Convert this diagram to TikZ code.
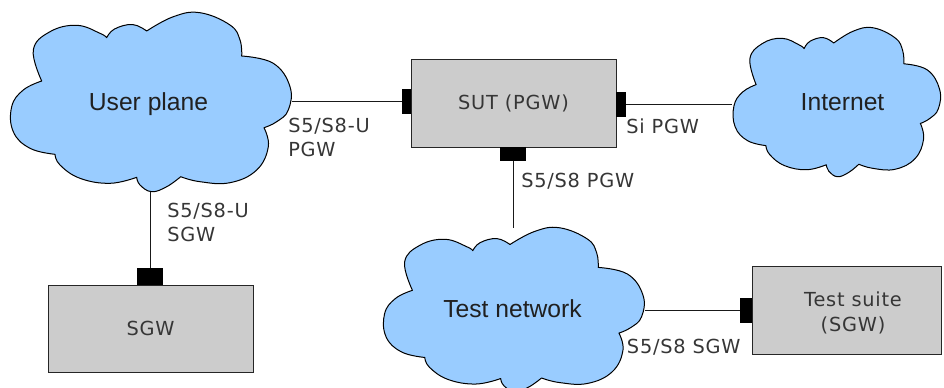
\documentclass[tikz,border=0pt]{standalone}
\usepackage{fontspec}
\newfontfamily\cloudfont{Liberation Sans}
\newfontfamily\portfont[LetterSpace=4]{DejaVu Sans}
\definecolor{cloudblue}{HTML}{99CCFF}
\definecolor{boxgray}{HTML}{CCCCCC}
\definecolor{inkcol}{HTML}{202020}
\definecolor{labelink}{HTML}{363636}

% Cloud outline, one smooth arc per puff, in pixel units around its centre
\newcommand\cloudshape{%
  \filldraw[cloudline]
    plot[smooth,tension=0.7] coordinates {(-108.8,-21.5) (-117.2,-52.5) (-100.5,-70.8) (-73.8,-77.2) (-50.5,-69.2) (-43.8,-64.8)}
    -- plot[smooth,tension=0.7] coordinates {(-43.8,-64.8) (-36,-73.5) (-18,-78) (-3.8,-71.5)}
    -- plot[smooth,tension=0.7] coordinates {(-3.8,-71.5) (22.8,-85.8) (49.5,-89.8) (79.5,-77.5) (89.5,-62.5) (91.2,-46.5)}
    -- plot[smooth,tension=0.7] coordinates {(91.2,-46.5) (122.8,-39.2) (139.5,-15.8) (137.8,7.5) (126.2,19.2) (113.5,25.2)}
    -- plot[smooth,tension=0.7] coordinates {(113.5,25.2) (117.8,44.2) (106.2,67.5) (79.5,80.2) (49.5,79.2) (30.2,74.2)}
    -- plot[smooth,tension=0.7] coordinates {(30.2,74.2) (16.2,84.2) (1.2,89.2) (-10.5,82.5) (-13.8,74.8)}
    -- plot[smooth,tension=0.7] coordinates {(-13.8,74.8) (-40.5,80.8) (-70.5,75.8) (-90.5,62.5) (-95.5,51.8)}
    -- plot[smooth,tension=0.7] coordinates {(-95.5,51.8) (-120.5,45.8) (-137.2,29.2) (-138.8,4.2) (-127.2,-12.5) (-108.8,-21.5)}
    -- cycle;}

\begin{document}
\begin{tikzpicture}[x=0.75pt,y=-0.75pt,
  cloudline/.style={fill=cloudblue,draw=black,line width=0.75pt,line join=round},
  cloudtext/.style={font=\cloudfont\fontsize{18.5}{22}\selectfont,text=inkcol,inner sep=0pt},
  box/.style={draw=black!85,fill=boxgray,line width=0.75pt,inner sep=0pt,
              font=\portfont\fontsize{14.5}{18.75}\selectfont,text=labelink},
  boxtext/.style={font=\portfont\fontsize{14.5}{18.75}\selectfont,text=labelink,inner sep=0pt,align=center},
  port/.style={fill=black,draw=none,inner sep=0pt},
  wire/.style={draw=black!90,line width=0.75pt},
  lab/.style={font=\portfont\fontsize{14.5}{18.5}\selectfont,text=labelink,inner sep=0pt,align=left}]
\useasboundingbox (0,0) rectangle (944,387);
\fill[white] (0,0) rectangle (944,387);

% clouds
\begin{scope}[shift={(150.5,102.5)}]
  \cloudshape
\end{scope}
\begin{scope}[shift={(836.5,102.5)},xscale=0.739,yscale=0.832]
  \cloudshape
\end{scope}
\begin{scope}[shift={(513.5,310)},xscale=0.929,yscale=0.916]
  \cloudshape
\end{scope}

\node[cloudtext,anchor=base] (up) at (148.5,110) {User plane};
\node[cloudtext,anchor=base] (inet) at (842.5,110.5) {Internet};
\node[cloudtext,anchor=base] (tn) at (512.5,317.7) {Test network};

% attachment points on the cloud outlines
\coordinate (up-e) at (292,101);
\coordinate (up-s) at (150,192);
\coordinate (inet-w) at (732,104.5);
\coordinate (tn-n) at (513,228);
\coordinate (tn-e) at (645,310);

% equipment boxes
\node[box,minimum width=153.75pt,minimum height=66pt] (sut) at (513.5,103) {SUT (PGW)};
\node[box,minimum width=153.75pt,minimum height=65.25pt] (sgw) at (150.5,328.5) {SGW};
\node[box,minimum width=141.75pt,minimum height=66pt] (ts) at (846.5,310) {};
\node[boxtext] (ts-label) at (853,312.7) {Test suite\\(SGW)};

% interface ports
\node[port,minimum width=6.75pt,minimum height=18.75pt] (sutL) at (406.5,101) {};
\node[port,minimum width=7.5pt,minimum height=18.75pt] (sutR) at (621,104.5) {};
\node[port,minimum width=19.5pt,minimum height=10.5pt] (sutB) at (513,154) {};
\node[port,minimum width=19.5pt,minimum height=12.75pt] (sgwT) at (150,276.5) {};
\node[port,minimum width=9pt,minimum height=18.75pt] (tsL) at (746,310) {};

% links
\draw[wire] (up-e) -- (sutL.west);
\draw[wire] (sutR.east) -- (inet-w);
\draw[wire] (sutB.south) -- (tn-n);
\draw[wire] (up-s) -- (sgwT.north);
\draw[wire] (tn-e) -- (tsL.west);

% interface labels
\node[lab,anchor=north west] (l-up-pgw) at (288,117.6) {S5/S8-U\\PGW};
\node[lab,anchor=base west] (l-si) at (626,133.3) {Si PGW};
\node[lab,anchor=base west] (l-s5pgw) at (521,187.3) {S5/S8 PGW};
\node[lab,anchor=north west] (l-up-sgw) at (167,202.6) {S5/S8-U\\SGW};
\node[lab,anchor=base west] (l-s5sgw) at (626.7,353.3) {S5/S8 SGW};
\end{tikzpicture}
\end{document}
